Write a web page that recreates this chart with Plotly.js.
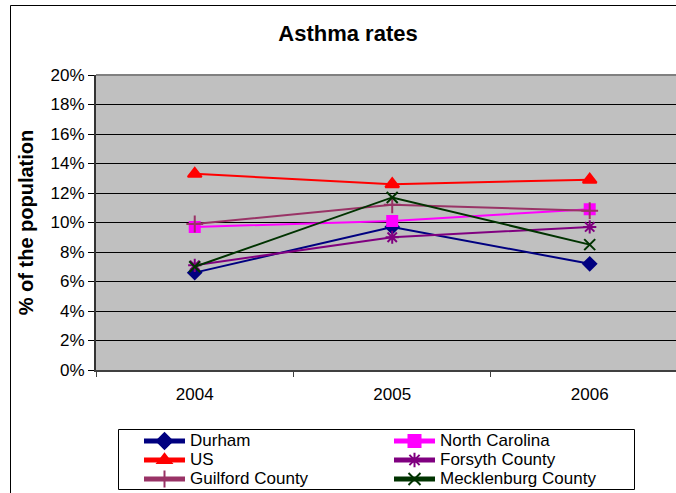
<!DOCTYPE html>
<html>
<head>
<meta charset="utf-8">
<script src="https://cdn.plot.ly/plotly-3.0.1.min.js"></script>
<style>
  html, body { margin: 0; padding: 0; background: #ffffff; }
  #chart { width: 676px; height: 493px; }
</style>
</head>
<body>
<div id="chart"></div>
<script>
// ---- data (percent of population) ----
const years = ['2004', '2005', '2006'];
const durham = [6.6, 9.7, 7.2];
const northCarolina = [9.7, 10.1, 10.9];
const us = [13.3, 12.6, 12.9];
const forsyth = [7.1, 9.0, 9.7];
const guilford = [9.9, 11.2, 10.8];
const mecklenburg = [7.0, 11.7, 8.5];

const seriesNames = ['Durham', 'North Carolina', 'US', 'Forsyth County', 'Guilford County', 'Mecklenburg County'];
const seriesValues = [durham, northCarolina, us, forsyth, guilford, mecklenburg];
const seriesColors = ['#000080', '#FF00FF', '#FF0000', '#800080', '#993366', '#003300'];
const seriesSymbols = ['diamond', 'square', 'triangle-up', 'asterisk-open', 'cross-thin-open', 'x-thin-open'];
const seriesSizes = [10, 10, 12, 11, 12, 11];

const traces = seriesNames.map((name, i) => ({
  type: 'scatter',
  mode: 'lines+markers',
  name: '<span style="font-size:17px">' + name + '</span>',
  x: years,
  y: seriesValues[i],
  line: { color: seriesColors[i], width: 2 },
  marker: {
    symbol: seriesSymbols[i],
    size: seriesSizes[i],
    color: seriesColors[i],
    line: { color: seriesColors[i], width: 2 }
  }
}));

const W = 676, H = 493;
const L = 96, R = 0, T = 75, B = 123;
const pw = W - L - R, ph = H - T - B;
const px = v => (v - L) / pw;
const py = v => (H - B - v) / ph;

const layout = {
  width: W, height: H,
  margin: { l: L, r: R, t: T, b: B, pad: 0, autoexpand: false },
  paper_bgcolor: '#ffffff',
  plot_bgcolor: '#C0C0C0',
  font: { family: 'Liberation Sans, Arial, sans-serif', color: '#000000', size: 17 },
  title: {
    text: '<b>Asthma rates</b>',
    font: { size: 22, family: 'Liberation Sans, Arial, sans-serif', color: '#000' },
    x: 348 / W, xanchor: 'center', xref: 'container',
    y: 1 - 33 / H, yanchor: 'middle', yref: 'container'
  },
  xaxis: {
    type: 'category',
    range: [-0.5, 2.437],
    showgrid: false,
    zeroline: false,
    showline: true, linecolor: '#404040', linewidth: 2,
    ticks: 'outside', ticklen: 5, tickcolor: '#404040', tickwidth: 1,
    tickson: 'boundaries',
    ticklabelstandoff: 8,
    tickfont: { size: 17 },
    fixedrange: true
  },
  yaxis: {
    range: [0, 20],
    dtick: 2,
    ticksuffix: '%',
    showgrid: true, gridcolor: '#000000', gridwidth: 1,
    zeroline: false,
    showline: true, linecolor: '#333333', linewidth: 2,
    ticks: 'outside', ticklen: 6, tickcolor: '#000000', tickwidth: 1,
    tickfont: { size: 17 },
    title: {
      text: '<b>% of the population</b>',
      font: { size: 20, family: 'Liberation Sans, Arial, sans-serif' },
      standoff: 12
    },
    fixedrange: true
  },
  showlegend: true,
  legend: {
    orientation: 'h',
    x: px(118), xanchor: 'left',
    y: py(426.5), yanchor: 'top',
    bgcolor: 'rgba(0,0,0,0)',
    borderwidth: 0,
    font: { size: 12, family: 'Liberation Sans, Arial, sans-serif' },
    indentation: 21,
    itemwidth: 41,
    entrywidth: 173,
    tracegroupgap: 0,
    itemsizing: 'constant'
  },
  shapes: [
    { type: 'rect', xref: 'paper', yref: 'paper',
      x0: px(10.5), x1: px(1000), y0: py(5.5), y1: py(1000),
      line: { color: '#000000', width: 1 }, fillcolor: 'rgba(0,0,0,0)', layer: 'below' },
    { type: 'line', xref: 'paper', yref: 'paper',
      x0: 0, x1: 1, y0: 1, y1: 1,
      line: { color: '#808080', width: 2 }, layer: 'above' },
    // legend frame
    { type: 'rect', xref: 'paper', yref: 'paper',
      x0: px(118.5), x1: px(634.5), y0: py(489.5), y1: py(429.5),
      line: { color: '#000000', width: 1 }, fillcolor: '#ffffff', layer: 'below' }
  ]
};

Plotly.newPlot('chart', traces, layout, { displayModeBar: false, staticPlot: true });
</script>
</body>
</html>
